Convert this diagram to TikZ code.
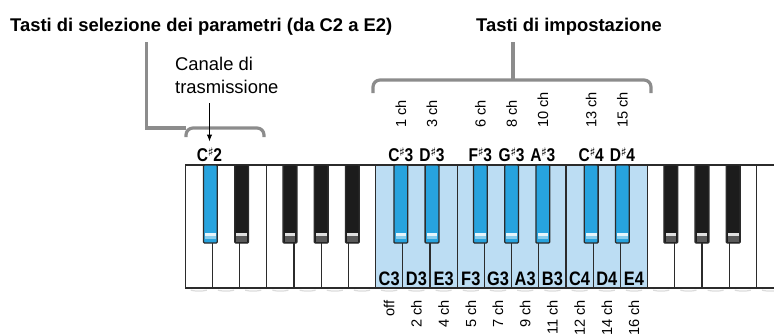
\documentclass[tikz,border=0pt]{standalone}
\usepackage{fontspec}
\setmainfont{Liberation Sans}
\newfontfamily\keyfont[FakeStretch=0.84]{Liberation Sans Bold}
\newfontfamily\sharpfont{DejaVu Sans Bold}
\usetikzlibrary{arrows.meta}
\definecolor{brkgray}{HTML}{8C8C8C}
\definecolor{keyline}{HTML}{2B2B2B}
\definecolor{hlwhite}{HTML}{BCDDF3}
\definecolor{hlblack}{HTML}{27A3DE}
\definecolor{blackfill}{HTML}{1C1C1C}
\newcommand{\shp}{\kern-0.3pt\raisebox{0.26em}{\sharpfont\fontsize{12}{10}\selectfont ♯}\kern-0.3pt}
\begin{document}
\begin{tikzpicture}[x=1pt,y=-1pt,
  whitekey/.style={draw=keyline, line width=1.3pt, fill=white, minimum width=27.2pt, minimum height=123pt, inner sep=0pt, outer sep=0pt},
  hlkey/.style={whitekey, fill=hlwhite},
  blackkey/.style={draw=keyline, line width=1.3pt, fill=blackfill, minimum width=13.8pt, minimum height=78pt, inner sep=0pt, rounded corners=1pt},
  bluekey/.style={blackkey, fill=hlblack},
  brk/.style={draw=brkgray, line width=3.2pt, rounded corners=7pt},
  stem/.style={draw=brkgray, line width=3.2pt},
  title/.style={font=\bfseries\fontsize{18.4}{22}\selectfont, inner sep=0pt, anchor=base west},
  plain/.style={font=\fontsize{18.4}{22}\selectfont, inner sep=0pt, anchor=base west},
  toplbl/.style={font=\keyfont\fontsize{18.5}{20}\selectfont, inner sep=0pt, anchor=base},
  wlbl/.style={font=\keyfont\fontsize{19.5}{20}\selectfont, inner sep=0pt, anchor=base},
  chup/.style={font=\fontsize{14.6}{16}\selectfont, inner sep=0pt, rotate=90, anchor=west},
  chdown/.style={font=\fontsize{14.6}{16}\selectfont, inner sep=0pt, rotate=90, anchor=east},
  pointer/.style={-{Latex[length=7pt,width=5.5pt]}, line width=1pt, draw=black}
]
\useasboundingbox (0,0) rectangle (774,335);

% titles
\node[title] (t1) at (10,31) {Tasti di selezione dei parametri (da C2 a E2)};
\node[title] (t2) at (476,31) {Tasti di impostazione};

% brackets and stems
\coordinate (s1top) at (146.7,42);
\coordinate (b1l) at (186,137);
\coordinate (b1c) at (186,128);
\coordinate (b1r) at (264,137);
\draw[brk] (b1l) -- (b1l |- b1c) -- (b1r |- b1c) -- (b1r);
\draw[stem] (s1top) |- (b1c);

\coordinate (s2top) at (513,42);
\coordinate (b2l) at (373,93);
\coordinate (b2r) at (651,93);
\coordinate (b2c) at (513,80);
\draw[brk] (b2l) -- (b2l |- b2c) -- (b2r |- b2c) -- (b2r);
\draw[stem] (s2top) -- (b2c);

% white keys
\foreach \i in {0,...,21} {
  \pgfmathsetmacro{\xc}{185.2+27.2*\i+13.6}
  \ifnum\i>6 \ifnum\i<17
    \node[hlkey] (wk\i) at (\xc,226.5) {};
  \else
    \node[whitekey] (wk\i) at (\xc,226.5) {};
  \fi\else
    \node[whitekey] (wk\i) at (\xc,226.5) {};
  \fi
  \draw[black!14, line width=1.2pt] (\xc-8,290.2) .. controls (\xc-3,291.4) and (\xc+3,291.4) .. (\xc+8,290.2);
}

% black keys
\foreach \cx/\nm/\st in {210.4/Cs2/bluekey, 241.6/Ds2/blackkey, 290/Fs2/blackkey, 321.2/Gs2/blackkey, 352.4/As2/blackkey,
  400.8/Cs3/bluekey, 432/Ds3/bluekey, 480.4/Fs3/bluekey, 511.6/Gs3/bluekey, 542.8/As3/bluekey,
  591.2/Cs4/bluekey, 622.4/Ds4/bluekey, 670.8/Fs4/blackkey, 702/Gs4/blackkey, 733.2/As4/blackkey} {
  \node[\st] (bk\nm) at (\cx,204) {};
}
\foreach \cx in {241.6,290,321.2,352.4,670.8,702,733.2} {
  \fill[black!12] (\cx-5.3,233) rectangle (\cx+5.3,236);
  \fill[black!65] (\cx-5.3,236) rectangle (\cx+5.3,241.8);
}
\foreach \cx in {210.4,400.8,432,480.4,511.6,542.8,591.2,622.4} {
  \fill[hlblack!12] (\cx-5.3,233) rectangle (\cx+5.3,236);
  \fill[hlblack!55] (\cx-5.3,236) rectangle (\cx+5.3,238.5);
}

% sharp labels
\node[toplbl] (lCs2) at (209.5,161) {C\shp2};
\node[toplbl] (lCs3) at (400.8,161) {C\shp3};
\node[toplbl] (lDs3) at (432,161) {D\shp3};
\node[toplbl] (lFs3) at (480.4,161) {F\shp3};
\node[toplbl] (lGs3) at (511.6,161) {G\shp3};
\node[toplbl] (lAs3) at (542.8,161) {A\shp3};
\node[toplbl] (lCs4) at (591.2,161) {C\shp4};
\node[toplbl] (lDs4) at (622.4,161) {D\shp4};

% channel labels above
\node[chup] (c1) at (400.8,128) {1 ch};
\node[chup] (c3) at (432,128) {3 ch};
\node[chup] (c6) at (480.4,128) {6 ch};
\node[chup] (c8) at (511.6,128) {8 ch};
\node[chup] (c10) at (542.8,128) {10 ch};
\node[chup] (c13) at (591.2,128) {13 ch};
\node[chup] (c15) at (622.4,128) {15 ch};

% white key labels and channels below
\foreach \i/\nm/\ch in {7/C3/off, 8/D3/2 ch, 9/E3/4 ch, 10/F3/5 ch, 11/G3/7 ch, 12/A3/9 ch, 13/B3/11 ch, 14/C4/12 ch, 15/D4/14 ch, 16/E4/16 ch} {
  \node[wlbl] (l\nm) at ([yshift=-58.5pt]wk\i.center) {\nm};
  \node[chdown] (ch\nm) at ([yshift=-73.5pt]wk\i.center) {\ch};
}

% transmission channel label and pointer
\node[plain] (canale) at (175,70.7) {Canale di};
\node[plain] (canaleb) at (175,93) {trasmissione};
\coordinate (pStart) at (209.5,103);
\coordinate (pEnd) at (209.5,141.5);
\draw[pointer] (pStart) -- (pEnd);
\end{tikzpicture}
\end{document}
